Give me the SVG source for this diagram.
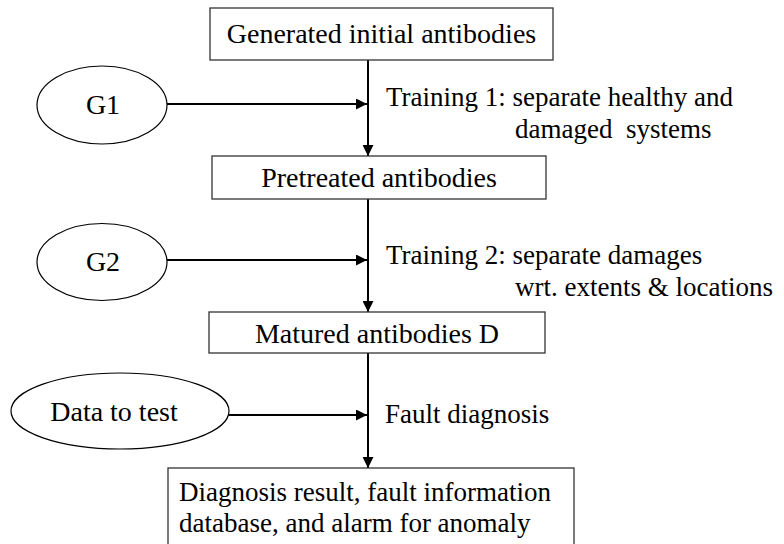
<svg xmlns="http://www.w3.org/2000/svg" width="784" height="544" viewBox="0 0 784 544">
<style>
text{font-family:"Liberation Serif","Times New Roman",serif;font-size:27px;fill:#000}
.big{font-size:28px}
.box{fill:#fff;stroke:#333;stroke-width:1.3}
.ell{fill:#fff;stroke:#000;stroke-width:1.2}
.con{stroke:#000;stroke-width:2;fill:none}
</style>
<defs>
<marker id="ah" viewBox="0 0 10 10" refX="10" refY="5" markerWidth="5.5" markerHeight="5.5" orient="auto" markerUnits="strokeWidth">
<path d="M0,0 L10,5 L0,10 Z" fill="#000"/>
</marker>
</defs>
<rect width="784" height="544" fill="#fff"/>
<g id="connectors">
<line class="con" x1="368" y1="60" x2="368" y2="156" marker-end="url(#ah)"/>
<line class="con" x1="167" y1="104" x2="367" y2="104" marker-end="url(#ah)"/>
<line class="con" x1="368" y1="199" x2="368" y2="312" marker-end="url(#ah)"/>
<line class="con" x1="167" y1="260" x2="367" y2="260" marker-end="url(#ah)"/>
<line class="con" x1="368" y1="353" x2="368" y2="468" marker-end="url(#ah)"/>
<line class="con" x1="229" y1="415" x2="367" y2="415" marker-end="url(#ah)"/>
</g>
<g id="n_generated">
<rect class="box" x="210" y="8" width="343" height="52"/>
<text class="big" x="381.5" y="43" text-anchor="middle">Generated initial antibodies</text>
</g>
<g id="n_g1">
<ellipse class="ell" cx="102" cy="105" rx="65" ry="39"/>
<text class="big" x="103" y="114" text-anchor="middle">G1</text>
</g>
<g id="l_training1">
<text x="386" y="106">Training 1: separate healthy and</text>
<text x="515" y="138" xml:space="preserve">damaged  systems</text>
</g>
<g id="n_pretreated">
<rect class="box" x="212" y="156" width="334" height="43"/>
<text class="big" x="379" y="187" text-anchor="middle">Pretreated antibodies</text>
</g>
<g id="n_g2">
<ellipse class="ell" cx="102" cy="262" rx="65" ry="38.5"/>
<text class="big" x="103" y="271" text-anchor="middle">G2</text>
</g>
<g id="l_training2">
<text x="386" y="264">Training 2: separate damages</text>
<text x="515" y="296">wrt. extents &amp; locations</text>
</g>
<g id="n_matured">
<rect class="box" x="209" y="312" width="336" height="41"/>
<text class="big" x="377" y="343" text-anchor="middle">Matured antibodies D</text>
</g>
<g id="n_data">
<ellipse class="ell" cx="120" cy="411" rx="109" ry="38"/>
<text class="big" x="114" y="421" text-anchor="middle">Data to test</text>
</g>
<g id="l_fault">
<text x="385" y="423">Fault diagnosis</text>
</g>
<g id="n_result">
<rect class="box" x="168" y="468" width="406" height="80"/>
<text x="179" y="501">Diagnosis result, fault information</text>
<text x="179" y="532">database, and alarm for anomaly</text>
</g>
</svg>
